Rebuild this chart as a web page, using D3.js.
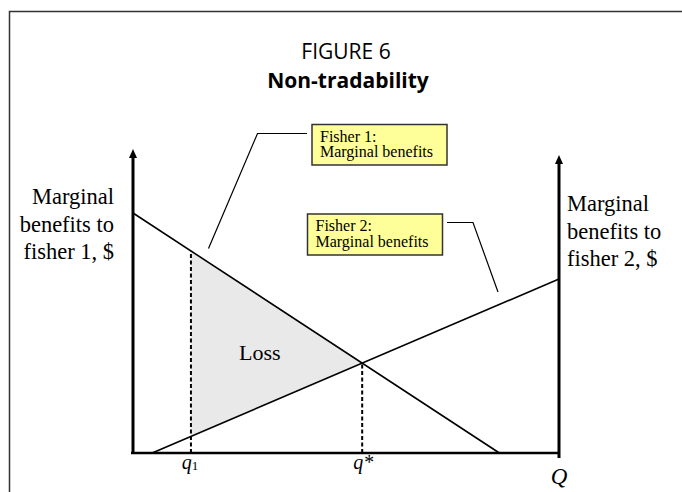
<!DOCTYPE html>
<html>
<head>
<meta charset="utf-8">
<script src="https://cdn.jsdelivr.net/npm/d3@7"></script>
<style>
  body { margin: 0; background: #fff; }
  svg { display: block; }
</style>
</head>
<body>
<script>
// values (Q units 0..10, $ units 0..10)
var fisher1 = [[0, 8.0], [8.6, 0]];      // marginal benefits, fisher 1 (falls)
var fisher2 = [[0.45, 0], [10, 5.8]];    // marginal benefits, fisher 2 (rises)
var q1 = 1.36;
var qStar = 5.38;
var tickLabels = ["q1", "q*", "Q"];
var leftLabel = ["Marginal", "benefits to", "fisher 1, $"];
var rightLabel = ["Marginal", "benefits to", "fisher 2, $"];
var box1Text = ["Fisher 1:", "Marginal benefits"];
var box2Text = ["Fisher 2:", "Marginal benefits"];

var W = 682, H = 492;

var svg = d3.select("body")
   .append("svg")
   .attr("width", W)
   .attr("height", H);

var x = d3.scaleLinear().domain([0, 10]).range([133, 559]);
var y = d3.scaleLinear().domain([0, 10]).range([453, 153]);

// value of a straight line given by two points
function lineAt(seg, q){
  var a = seg[0], b = seg[1];
  return a[1] + (b[1] - a[1]) * (q - a[0]) / (b[0] - a[0]);
}

var serif = "'Liberation Serif', 'Times New Roman', serif";
var sans = "'Open Sans', 'Noto Sans', sans-serif";

// outer frame (open to the right and bottom, as cropped)
svg.append("path")
  .attr("d", "M9.5," + H + "V11.5H" + W)
  .attr("fill", "none")
  .attr("stroke", "#333")
  .attr("stroke-width", 1.5);

// title
svg.append("text")
  .attr("x", 346).attr("y", 59)
  .attr("text-anchor", "middle")
  .style("font-family", sans).style("font-size", "21px")
  .text("FIGURE 6");
svg.append("text")
  .attr("x", 348).attr("y", 88)
  .attr("text-anchor", "middle")
  .style("font-family", sans).style("font-size", "21px").style("font-weight", "bold")
  .text("Non-tradability");

// loss area between the two curves from q1 to q*
var lossPts = [
  [q1, lineAt(fisher1, q1)],
  [qStar, lineAt(fisher1, qStar)],
  [q1, lineAt(fisher2, q1)]
];
svg.append("path")
  .attr("d", d3.line().x(function(d){ return x(d[0]); }).y(function(d){ return y(d[1]); })(lossPts) + "Z")
  .attr("fill", "#e9e9e9");

svg.append("text")
  .attr("x", 239).attr("y", 360)
  .style("font-family", serif).style("font-size", "22px")
  .text("Loss");

// dashed drop lines
[[q1, lineAt(fisher1, q1)], [qStar, lineAt(fisher1, qStar)]].forEach(function(d){
  svg.append("line")
    .attr("x1", x(d[0])).attr("x2", x(d[0]))
    .attr("y1", y(0)).attr("y2", y(d[1]))
    .attr("stroke", "#000")
    .attr("stroke-width", 2)
    .attr("stroke-dasharray", "4,2.5");
});

// marginal benefit lines
var line = d3.line().x(function(d){ return x(d[0]); }).y(function(d){ return y(d[1]); });
[fisher1, fisher2].forEach(function(seg){
  svg.append("path")
    .attr("d", line(seg))
    .attr("fill", "none")
    .attr("stroke", "#000")
    .attr("stroke-width", 1.6);
});

// axes
svg.append("line")
  .attr("x1", x(0) - 2).attr("x2", x(10))
  .attr("y1", y(0)).attr("y2", y(0))
  .attr("stroke", "#000").attr("stroke-width", 2.5);

function vAxis(px, top, bottom){
  svg.append("line")
    .attr("x1", px).attr("x2", px)
    .attr("y1", bottom).attr("y2", top + 6)
    .attr("stroke", "#000").attr("stroke-width", 3);
  svg.append("path")
    .attr("d", "M" + px + "," + top + "L" + (px + 4) + "," + (top + 9) + "L" + (px - 4) + "," + (top + 9) + "Z")
    .attr("fill", "#000");
}
vAxis(x(0), 149, y(0) + 1);
vAxis(x(10), 155, y(0) + 5);

// axis labels
function multiLine(lines, px, py, anchor, size, gap){
  var t = svg.append("text")
    .attr("x", px).attr("y", py)
    .attr("text-anchor", anchor)
    .style("font-family", serif).style("font-size", size + "px");
  lines.forEach(function(s, i){
    t.append("tspan").attr("x", px).attr("y", py + i * gap).text(s);
  });
  return t;
}
multiLine(leftLabel, 114, 204, "end", 22.5, 27.5);
multiLine(rightLabel, 567, 211, "start", 22.5, 27.5);

// tick labels on Q axis
var tq1 = svg.append("text")
  .attr("x", x(q1) - 1).attr("y", 469)
  .attr("text-anchor", "middle")
  .style("font-family", serif).style("font-size", "20px");
tq1.append("tspan").style("font-style", "italic").text(tickLabels[0].charAt(0));
tq1.append("tspan").style("font-size", "13px").attr("dy", 1).text(tickLabels[0].charAt(1));

svg.append("text")
  .attr("x", x(qStar) + 1).attr("y", 469)
  .attr("text-anchor", "middle")
  .style("font-family", serif).style("font-size", "20px").style("font-style", "italic")
  .text(tickLabels[1]);

svg.append("text")
  .attr("x", x(10)).attr("y", 484)
  .attr("text-anchor", "middle")
  .style("font-family", serif).style("font-size", "23px").style("font-style", "italic")
  .text(tickLabels[2]);

// callout boxes with leader lines
function callout(bx, by, bw, bh, lines, leader){
  svg.append("path")
    .attr("d", d3.line()(leader))
    .attr("fill", "none")
    .attr("stroke", "#000")
    .attr("stroke-width", 1.2);
  svg.append("rect")
    .attr("x", bx).attr("y", by)
    .attr("width", bw).attr("height", bh)
    .attr("fill", "#ffff99")
    .attr("stroke", "#333")
    .attr("stroke-width", 1.5);
  var t = svg.append("text")
    .style("font-family", serif).style("font-size", "16px");
  lines.forEach(function(s, i){
    t.append("tspan").attr("x", bx + 8).attr("y", by + 17 + i * 15.5).text(s);
  });
}
callout(312, 124.5, 135, 40.5, box1Text, [[307, 133.5], [257.5, 133.5], [208.5, 248.5]]);
callout(307.5, 214, 135, 41, box2Text, [[447, 222.5], [473, 222.5], [498, 292]]);
</script>
</body>
</html>
